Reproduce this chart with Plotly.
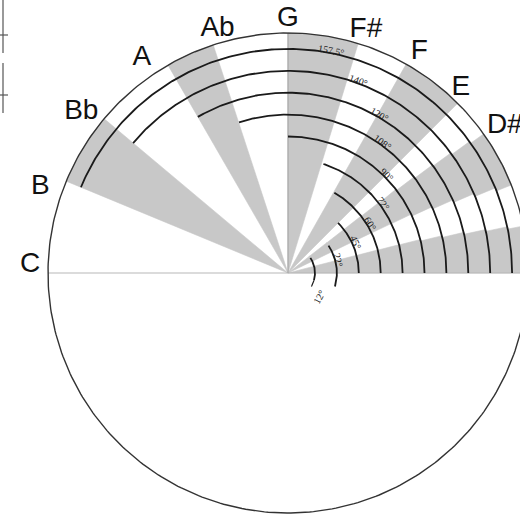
import numpy as np
import plotly.graph_objects as go

# ---------------- data ----------------
note_labels = ["C", "B", "Bb", "A", "Ab", "G", "F#", "F", "E", "D#", "D"]
note_angles = [178.2, 160.9, 142.1, 124.2, 106.1, 90, 72.2, 59.3, 46.9, 34.1, 21.7]   # degrees

interval_labels = ["12°", "22°", "45°", "60°", "72°", "90°", "108°", "120°", "140°", "157.5°"]
interval_angles = [12, 22.5, 45, 60, 72, 90, 108, 120, 140, 157.5]

# grey sectors that run unchanged from the centre to the rim (degrees)
grey_full = [(45, 60.5), (73, 90), (108, 120), (140, 157.5)]

# small-angle sector edges for each ring (inner -> outer ring), degrees:
# C#, D, D#
edge_cs = [14.5, 14.5, 14.5, 14.4, 14.3, 14.2, 13.6, 13.0, 12.4, 11.9, 11.3]
edge_d  = [25.9, 25.9, 25.8, 25.7, 25.6, 25.5, 24.7, 23.9, 23.1, 22.3, 21.5]
edge_ds = [38.0, 38.0, 37.9, 37.9, 37.8, 37.8, 37.3, 36.8, 36.4, 35.9, 35.4]

# ---------------- geometry / layout ----------------
R = 240.0
ring_r0 = 27.0
ring_step = 21.9
arc_r = [ring_r0 + i * ring_step for i in range(len(interval_angles))]
ring_edges = [0.0] + arc_r + [R]

GREY = "#c8c8c8"

def arc_xy(r, a0, a1, n=120):
    t = np.radians(np.linspace(a0, a1, n))
    return r * np.cos(t), r * np.sin(t)

fig = go.Figure()

xs, ys = [], []
# full wedges
for a0, a1 in grey_full:
    xo, yo = arc_xy(R, a0, a1, 80)
    xs += [0.0] + list(xo) + [0.0, None]
    ys += [0.0] + list(yo) + [0.0, None]
# ring pieces for the small-angle sectors
for k in range(len(ring_edges) - 1):
    r_in, r_out = ring_edges[k], ring_edges[k + 1]
    for a0, a1 in [(0, edge_cs[k]), (edge_d[k], edge_ds[k])]:
        xo, yo = arc_xy(r_out + 0.4, a0, a1, 40)
        xi, yi = arc_xy(max(r_in - 0.4, 0), a1, a0, 40)
        xs += list(xo) + list(xi) + [xo[0], None]
        ys += list(yo) + list(yi) + [yo[0], None]
fig.add_trace(go.Scatter(x=xs, y=ys, mode="lines", fill="toself",
                         fillcolor=GREY, line=dict(color=GREY, width=0.6),
                         hoverinfo="skip", showlegend=False))

# horizontal diameter line and vertical G line
fig.add_trace(go.Scatter(x=[-R, 250], y=[0, 0], mode="lines",
                         line=dict(color="#b8b8b8", width=1.2), showlegend=False))
fig.add_trace(go.Scatter(x=[0, 0], y=[0, R], mode="lines",
                         line=dict(color="#a8a8a8", width=1.2), showlegend=False))

# outer circle
cx, cy = arc_xy(R, 0, 360, 400)
fig.add_trace(go.Scatter(x=cx, y=cy, mode="lines",
                         line=dict(color="#333333", width=1.4), showlegend=False))

# interval arcs
for i, (ang, r) in enumerate(zip(interval_angles, arc_r)):
    if i < 2:
        a0, a1 = -16, 34
    else:
        a0, a1 = 0, ang
    ax_, ay_ = arc_xy(r, a0, a1, 200)
    fig.add_trace(go.Scatter(x=ax_, y=ay_, mode="lines",
                             line=dict(color="#1a1a1a", width=1.8), showlegend=False))

# leader below the smallest arc
lx, ly = arc_xy(arc_r[0], -16, -30, 20)
fig.add_trace(go.Scatter(x=lx, y=ly, mode="lines",
                         line=dict(color="#1a1a1a", width=1.2), showlegend=False))

# interval labels along the arcs
lab_pos = [-38, 14, 24, 31, 36, 45, 54, 60, 70, 79]
for i, (txt, r) in enumerate(zip(interval_labels, arc_r)):
    phi = lab_pos[i]
    rr = r + 3 if i > 0 else r + 12
    fig.add_annotation(x=rr * np.cos(np.radians(phi)), y=rr * np.sin(np.radians(phi)),
                       text=txt, showarrow=False, textangle=90 - phi if i > 0 else -62,
                       font=dict(family="Liberation Serif", size=10, color="#1a1a1a"))

# note names
lab_r = [258, 262, 262, 260, 254, 254, 255, 257, 253, 262, 254]
fig.add_trace(go.Scatter(
    x=[r * np.cos(np.radians(a)) for a, r in zip(note_angles, lab_r)],
    y=[r * np.sin(np.radians(a)) for a, r in zip(note_angles, lab_r)],
    mode="text", text=note_labels, cliponaxis=False,
    textfont=dict(family="Liberation Sans", size=28, color="#111"),
    showlegend=False, hoverinfo="skip"))

# cut-off marks at the top-left corner
for (y0, y1, yt) in [(273, 220, 238), (210, 160, 178)]:
    fig.add_shape(type="line", x0=-285, x1=-285, y0=y0, y1=y1,
                  line=dict(color="#555", width=1.2))
    fig.add_shape(type="line", x0=-288, x1=-280, y0=yt, y1=yt,
                  line=dict(color="#555", width=1.2))

fig.update_layout(
    width=520, height=516, margin=dict(l=0, r=0, t=0, b=0),
    paper_bgcolor="white", plot_bgcolor="white",
    xaxis=dict(range=[-288, 232], visible=False, fixedrange=True),
    yaxis=dict(range=[-243, 273], visible=False, fixedrange=True),
    showlegend=False,
)
fig.write_html("out.html", config={"displayModeBar": False},
               post_script="document.body.style.margin='0';document.body.style.overflow='hidden';")
